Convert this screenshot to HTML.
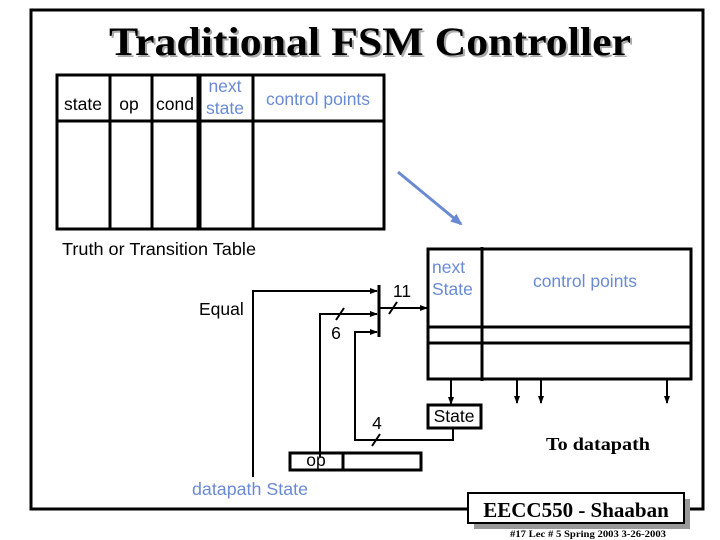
<!DOCTYPE html>
<html><head><meta charset="utf-8"><style>
html,body{margin:0;padding:0;background:#fff;}
svg{display:block;}
.s{font-family:"Liberation Sans",sans-serif;}
.r{font-family:"Liberation Serif",serif;}
</style></head><body>
<svg width="720" height="540" viewBox="0 0 720 540" xmlns="http://www.w3.org/2000/svg">
<defs>
<marker id="a" markerWidth="8" markerHeight="8" refX="7" refY="4" orient="auto" markerUnits="userSpaceOnUse">
<path d="M0,1 L8,4 L0,7 z" fill="#000"/></marker>
<marker id="b" markerWidth="12" markerHeight="12" refX="10" refY="6" orient="auto" markerUnits="userSpaceOnUse">
<path d="M0,1 L12,6 L0,11 z" fill="#6a8ad4"/></marker>
</defs>
<polyline points="469,509 31,509 31,10 703,10 703,509 690,509" fill="none" stroke="#000" stroke-width="3"/>
<text x="370" y="55" text-anchor="middle" class="r" font-weight="bold" font-size="40" fill="#aaa" textLength="522" lengthAdjust="spacingAndGlyphs" transform="translate(2,2)">Traditional FSM Controller</text>
<text x="370" y="55" text-anchor="middle" class="r" font-weight="bold" font-size="40" fill="#000" textLength="522" lengthAdjust="spacingAndGlyphs">Traditional FSM Controller</text>
<g fill="none" stroke="#000" stroke-width="3">
<rect x="57" y="75" width="327" height="154"/>
<line x1="57" y1="121" x2="384" y2="121"/>
<line x1="110" y1="75" x2="110" y2="229"/>
<line x1="152" y1="75" x2="152" y2="229"/>
<line x1="199" y1="75" x2="199" y2="229" stroke-width="5"/>
<line x1="253" y1="75" x2="253" y2="229"/>
</g>
<g class="s" font-size="17.5">
<text x="83" y="110" text-anchor="middle">state</text>
<text x="129" y="110" text-anchor="middle">op</text>
<text x="175" y="110" text-anchor="middle">cond</text>
<text x="225" y="92" text-anchor="middle" fill="#6a8ad4">next</text>
<text x="225" y="114" text-anchor="middle" fill="#6a8ad4">state</text>
<text x="318" y="105" text-anchor="middle" fill="#6a8ad4">control points</text>
<text x="62" y="255" textLength="194" lengthAdjust="spacingAndGlyphs">Truth or Transition Table</text>
<text x="199" y="315">Equal</text>
<text x="402" y="297" text-anchor="middle">11</text>
<text x="336" y="339" text-anchor="middle">6</text>
<text x="377" y="429" text-anchor="middle">4</text>
<text x="432" y="273" fill="#6a8ad4">next</text>
<text x="432" y="295" fill="#6a8ad4">State</text>
<text x="585" y="287" text-anchor="middle" fill="#6a8ad4">control points</text>
<text x="454" y="422" text-anchor="middle">State</text>
<text x="316" y="466" text-anchor="middle">op</text>
<text x="250" y="495" text-anchor="middle" fill="#6a8ad4" textLength="116" lengthAdjust="spacingAndGlyphs">datapath State</text>
</g>
<line x1="398" y1="172" x2="461" y2="224" stroke="#6a8ad4" stroke-width="3" marker-end="url(#b)"/>
<g fill="none" stroke="#000" stroke-width="3">
<rect x="428" y="249" width="263" height="130"/>
<line x1="482" y1="247" x2="482" y2="381"/>
<line x1="428" y1="327" x2="691" y2="327"/>
<line x1="428" y1="343" x2="691" y2="343"/>
<rect x="428" y="405" width="53" height="23"/>
<rect x="290" y="453" width="131" height="17"/>
<line x1="343" y1="453" x2="343" y2="470"/>
<line x1="379" y1="285" x2="379" y2="337"/>
</g>
<g fill="none" stroke="#000" stroke-width="2">
<line x1="451" y1="379" x2="451" y2="404" marker-end="url(#a)"/>
<line x1="517" y1="379" x2="517" y2="403" marker-end="url(#a)"/>
<line x1="541" y1="379" x2="541" y2="403" marker-end="url(#a)"/>
<line x1="667" y1="379" x2="667" y2="403" marker-end="url(#a)"/>
<polyline points="253,477 253,291 377,291" marker-end="url(#a)"/>
<polyline points="320,457 320,314 377,314" marker-end="url(#a)"/>
<polyline points="453,428 453,440 355,440 355,332 377,332" marker-end="url(#a)"/>
<line x1="379" y1="308" x2="427" y2="308" marker-end="url(#a)"/>
<line x1="389" y1="314" x2="397" y2="302"/>
<line x1="336" y1="320" x2="344" y2="308"/>
<line x1="372" y1="446" x2="380" y2="434"/>
</g>
<text x="598" y="450" text-anchor="middle" class="r" font-weight="bold" font-size="18" textLength="104" lengthAdjust="spacingAndGlyphs">To datapath</text>
<rect x="474" y="499" width="216" height="30" fill="#999"/>
<rect x="468" y="493" width="216" height="30" fill="#fff" stroke="#000" stroke-width="2"/>
<text x="576" y="517" text-anchor="middle" class="r" font-weight="bold" font-size="21">EECC550 - Shaaban</text>
<text x="588" y="537" text-anchor="middle" class="r" font-weight="bold" font-size="9" textLength="156" lengthAdjust="spacingAndGlyphs">#17   Lec # 5  Spring 2003  3-26-2003</text>
</svg>
</body></html>
